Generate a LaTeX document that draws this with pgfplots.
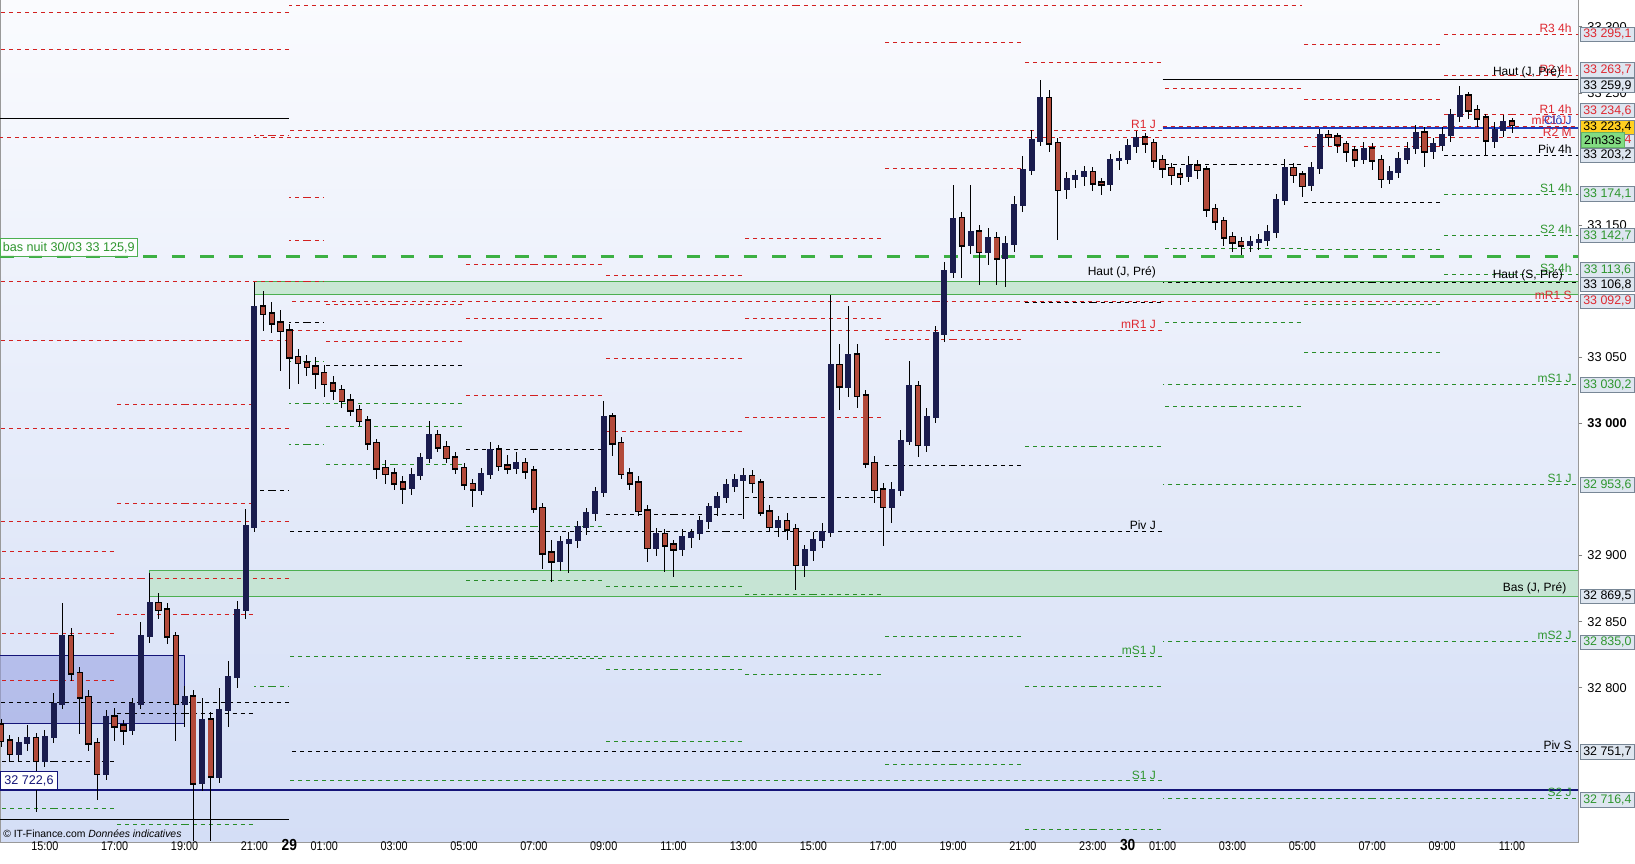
\documentclass[border=0pt]{standalone}
\usepackage{pgfplots}
\pgfplotsset{compat=1.18}
\usepackage{pgfplotstable}
\usepackage{fontspec}
\setmainfont{Liberation Sans}
\newfontfamily\narrow[FakeStretch=0.86]{Liberation Sans}

\definecolor{pivred}{RGB}{210,32,32}
\definecolor{pivgreen}{RGB}{40,140,40}
\definecolor{lblred}{RGB}{222,40,48}
\definecolor{lblgreen}{RGB}{46,150,46}
\definecolor{bgtop}{RGB}{250,251,254}
\definecolor{bgbot}{RGB}{212,222,246}
\definecolor{upc}{RGB}{26,28,78}
\definecolor{dnc}{RGB}{178,74,58}
\definecolor{navy}{RGB}{20,20,120}
\definecolor{boxfill}{RGB}{222,230,240}
\definecolor{boxdraw}{RGB}{120,135,150}
\definecolor{zonegreen}{RGB}{76,175,80}
\definecolor{zonefill}{RGB}{190,228,200}
\definecolor{bluezone}{RGB}{150,160,225}
\definecolor{closeblue}{RGB}{30,60,190}
\definecolor{thickgreen}{RGB}{60,176,67}

% 15-min candles, x in chart hours (15 = 15:00 on the 28th)
\pgfplotstableread{
t o h l c
13.75 32772 32776 32755 32760
14.00 32760 32764 32744 32750
14.25 32750 32763 32745 32758
14.50 32758 32772 32752 32762
14.75 32762 32766 32706 32745
15.00 32745 32768 32740 32763
15.25 32763 32796 32758 32788
15.50 32788 32864 32784 32839
15.75 32839 32845 32805 32811
16.00 32811 32816 32765 32793
16.25 32793 32798 32752 32758
16.50 32758 32762 32715 32735
16.75 32735 32783 32730 32778
17.00 32778 32785 32760 32771
17.25 32771 32776 32757 32768
17.50 32768 32792 32764 32788
17.75 32788 32850 32784 32839
18.00 32839 32887 32834 32864
18.25 32864 32872 32852 32859
18.50 32859 32864 32833 32839
18.75 32839 32842 32760 32788
19.00 32788 32801 32770 32793
19.25 32793 32798 32684 32728
19.50 32728 32792 32722 32776
19.75 32776 32782 32684 32733
20.00 32733 32800 32728 32783
20.25 32783 32820 32770 32808
20.50 32808 32866 32800 32859
20.75 32859 32935 32852 32922
21.00 32922 33107 32918 33088
21.25 33088 33100 33070 33083
21.50 33083 33092 33068 33076
21.75 33076 33086 33040 33070
22.00 33070 33075 33026 33050
22.25 33050 33056 33030 33046
22.50 33046 33052 33036 33043
22.75 33043 33050 33026 33038
23.00 33038 33044 33020 33030
23.25 33030 33036 33018 33025
23.50 33025 33029 33012 33017
23.75 33017 33022 33006 33010
24.00 33010 33014 32998 33002
24.25 33002 33006 32980 32985
24.50 32985 32988 32958 32966
24.75 32966 32972 32954 32962
25.00 32962 32966 32950 32955
25.25 32955 32960 32939 32951
25.50 32951 32966 32946 32961
25.75 32961 32978 32957 32974
26.00 32974 33002 32970 32991
26.25 32991 32995 32978 32982
26.50 32982 32987 32970 32974
26.75 32974 32978 32962 32966
27.00 32966 32970 32950 32954
27.25 32954 32958 32937 32950
27.50 32950 32966 32946 32962
27.75 32962 32986 32958 32980
28.00 32980 32984 32964 32968
28.25 32968 32976 32962 32966
28.50 32966 32978 32962 32970
28.75 32970 32974 32958 32964
29.00 32964 32968 32932 32936
29.25 32936 32940 32890 32902
29.50 32902 32912 32880 32896
29.75 32896 32915 32888 32910
30.00 32910 32918 32887 32912
30.25 32912 32926 32906 32922
30.50 32922 32936 32916 32932
30.75 32932 32952 32926 32948
31.00 32948 33017 32944 33005
31.25 33005 33008 32975 32985
31.50 32985 32990 32958 32962
31.75 32962 32966 32950 32955
32.00 32955 32960 32930 32934
32.25 32934 32938 32895 32906
32.50 32906 32921 32900 32916
32.75 32916 32920 32888 32908
33.00 32908 32912 32884 32905
33.25 32905 32920 32900 32914
33.50 32914 32920 32906 32917
33.75 32917 32930 32912 32926
34.00 32926 32940 32920 32937
34.25 32937 32948 32930 32944
34.50 32944 32958 32940 32953
34.75 32953 32962 32948 32957
35.00 32957 32966 32928 32960
35.25 32960 32965 32947 32955
35.50 32955 32958 32930 32933
35.75 32933 32938 32918 32922
36.00 32922 32930 32914 32926
36.25 32926 32932 32912 32920
36.50 32920 32924 32874 32893
36.75 32893 32908 32884 32904
37.00 32904 32918 32896 32912
37.25 32912 32925 32906 32918
37.50 32918 33097 32914 33044
37.75 33044 33060 33010 33028
38.00 33028 33089 33020 33052
38.25 33052 33060 33012 33021
38.50 33021 33025 32966 32970
38.75 32970 32975 32940 32950
39.00 32950 32955 32907 32937
39.25 32937 32956 32925 32950
39.50 32950 32995 32945 32987
39.75 32987 33047 32984 33028
40.00 33028 33032 32975 32984
40.25 32984 33012 32978 33005
40.50 33005 33074 33000 33068
40.75 33068 33122 33062 33115
41.00 33115 33180 33110 33155
41.25 33155 33160 33110 33135
41.50 33135 33180 33128 33145
41.75 33145 33150 33105 33130
42.00 33130 33148 33120 33140
42.25 33140 33145 33105 33125
42.50 33125 33142 33103 33136
42.75 33136 33172 33130 33165
43.00 33165 33202 33160 33192
43.25 33192 33222 33188 33214
43.50 33214 33260 33210 33246
43.75 33246 33252 33205 33212
44.00 33212 33216 33139 33177
44.25 33177 33190 33170 33185
44.50 33185 33192 33178 33187
44.75 33187 33195 33180 33190
45.00 33190 33194 33176 33182
45.25 33182 33186 33173 33181
45.50 33181 33204 33176 33199
45.75 33199 33206 33192 33200
46.00 33200 33215 33196 33210
46.25 33210 33221 33205 33216
46.50 33216 33220 33205 33212
46.75 33212 33215 33193 33199
47.00 33199 33203 33186 33193
47.25 33193 33197 33180 33188
47.50 33188 33193 33180 33187
47.75 33187 33202 33183 33195
48.00 33195 33199 33185 33192
48.25 33192 33195 33156 33162
48.50 33162 33166 33146 33153
48.75 33153 33156 33134 33141
49.00 33141 33145 33130 33137
49.25 33137 33141 33127 33135
49.50 33135 33142 33130 33137
49.75 33137 33143 33131 33139
50.00 33139 33150 33134 33145
50.25 33145 33174 33140 33169
50.50 33169 33200 33165 33193
50.75 33193 33197 33182 33188
51.00 33188 33191 33171 33180
51.25 33180 33198 33176 33193
51.50 33193 33223 33189 33218
51.75 33218 33222 33210 33217
52.00 33217 33220 33205 33211
52.25 33211 33214 33198 33206
52.50 33206 33210 33194 33200
52.75 33200 33213 33196 33208
53.00 33208 33212 33192 33199
53.25 33199 33203 33178 33185
53.50 33185 33195 33181 33190
53.75 33190 33205 33186 33200
54.00 33200 33213 33196 33208
54.25 33208 33226 33204 33220
54.50 33220 33224 33194 33206
54.75 33206 33216 33200 33211
55.00 33211 33224 33206 33218
55.25 33218 33238 33213 33233
55.50 33233 33255 33228 33248
55.75 33248 33251 33230 33237
56.00 33237 33241 33224 33231
56.25 33231 33234 33203 33214
56.50 33214 33228 33208 33222
56.75 33222 33233 33217 33228
57.00 33228 33231 33220 33226
}\candles

% pivot segments: start, end, level
\pgfplotstableread{
x0 x1 y
13.5 22 33311
13.5 22 33283
13.5 22 33107.5
13.5 22 33062.6
13.5 22 32995.8
13.5 22 32925.9
13.5 22 32882.6
13.5 17 32903.3
13.5 17 32841.2
13.5 17 32805.4
17 21 33014.5
17 21 32939.6
17 21 32855.6
21 22 33218
22 23 33170.5
22 23 33138.7
22 23 33107.5
23 27 33090.3
23 27 33061.6
27 31 33120.4
27 31 33079.5
27 31 33021.3
31 35 33112
31 35 33049.3
31 35 32994.2
35 39 33139.5
35 39 33079
35 39 33004.8
39 43 33287.8
39 43 33193
39 43 33063.6
43 47 33273.2
47 51 33253.2
51 55 33287
51 55 33245.2
51 55 33209.1
55 59 33294.4
55 59 33263.3
55 59 33233.5
22 51 33316.3
22 47 33221.7
22 47 33070.4
22 59 33092.4
13.5 59 33215.9
}\redlines

\pgfplotstableread{
x0 x1 y
13.5 22 32789
13.5 17 32743.9
17 21 32780.7
21 22 32949.4
22 23 33076.5
23 27 33044
27 31 32980.4
31 35 32931.2
35 39 32944
39 43 32968.2
43 47 33091.6
47 51 33196
51 55 33167.3
55 59 33202.8
22 47 32918.4
22 59 32751.7
47 59 33106.2
}\blacklines

\pgfplotstableread{
x0 x1 y
13.5 17 32708.3
17 21 32696.2
21 22 32800.6
22 23 33046.5
22 23 33015.2
22 23 32984.2
23 27 33015.2
23 27 32998
23 27 32969.1
27 31 32922
27 31 32881.2
27 31 32822
31 35 32876.7
31 35 32813.9
31 35 32759.4
35 39 32870.7
35 39 32810.1
39 43 32838.9
39 43 32742
43 47 32982.6
43 47 32801.3
43 47 32693
47 51 33132.5
47 51 33076
47 51 33012.4
51 55 33131.2
51 55 33089.6
51 55 33053.3
55 59 33173.3
55 59 33142.3
55 59 33112.8
22 47 32823.7
22 47 32729.5
47 59 33029.6
47 59 32953.6
47 59 32835
47 59 32716.4
}\greenlines

\pgfplotsset{
  seg/.style={draw=none, mark=none, forget plot,
    error bars/.cd, x dir=both, x explicit, error mark=none,
    error bar style={draw=#1, line width=0.5pt, dash pattern=on 2pt off 2pt}},
}
\tikzset{
  lbl/.style={anchor=south east, inner sep=0.6pt, font=\fontsize{6}{7}\selectfont},
  vb/.style={draw=boxdraw, fill=boxfill, minimum width=27pt, minimum height=7.2pt,
    inner sep=0pt, anchor=west, line width=0.4pt, font=\fontsize{6.2}{6.5}\selectfont},
}

\begin{document}
\begin{tikzpicture}
\begin{axis}[
  scale only axis, width=789pt, height=421pt,
  xmin=13.717, xmax=58.89, ymin=32683.3, ymax=33320.3,
  axis background/.style={top color=bgtop, bottom color=bgbot},
  axis line style={draw=gray!80, line width=0.5pt},
  clip mode=individual,
  xtick={15,17,19,21,22,23,25,27,29,31,33,35,37,39,41,43,45,46,47,49,51,53,55,57},
  xticklabels={15:00,17:00,19:00,21:00,{\bfseries\fontsize{8}{8}\selectfont 29},01:00,03:00,05:00,07:00,09:00,11:00,13:00,15:00,17:00,19:00,21:00,23:00,{\bfseries\fontsize{8}{8}\selectfont 30},01:00,03:00,05:00,07:00,09:00,11:00},
  xtick pos=bottom, xtick style={draw=none},
  xticklabel style={font=\narrow\fontsize{6.3}{7}\selectfont, anchor=base, yshift=-2pt},
  ytick={32800,32850,32900,33000,33050,33150,33250,33300},
  yticklabels={32 800,32 850,32 900,\textbf{33 000},33 050,33 150,33 250,33 300},
  ytick pos=right, yticklabel pos=right, tick align=outside,
  major tick length=2.2pt, ytick style={draw=gray, line width=0.4pt},
  yticklabel style={font=\fontsize{6.4}{7}\selectfont, anchor=west, xshift=-1pt},
]
% zones
\addplot[forget plot, draw=navy, line width=0.5pt, fill=bluezone, fill opacity=0.55]
  coordinates {(13.5,32773.2) (19.0,32773.2) (19.0,32824.6) (13.5,32824.6)} -- cycle;
\addplot[forget plot, draw=zonegreen, line width=0.5pt, fill=zonefill, fill opacity=0.75]
  coordinates {(18.0,32869.4) (59.5,32869.4) (59.5,32888.9) (18.0,32888.9)} -- cycle;
\addplot[forget plot, draw=zonegreen, line width=0.5pt, fill=zonefill, fill opacity=0.75]
  coordinates {(21.0,33097.4) (59.5,33097.4) (59.5,33107.0) (21.0,33107.0)} -- cycle;

% pivot levels
\addplot[seg={pivred}] table[x expr={(\thisrow{x0}+\thisrow{x1})/2}, y=y,
    x error expr={(\thisrow{x1}-\thisrow{x0})/2}] {\redlines};
\addplot[seg={black}] table[x expr={(\thisrow{x0}+\thisrow{x1})/2}, y=y,
    x error expr={(\thisrow{x1}-\thisrow{x0})/2}] {\blacklines};
\addplot[seg={pivgreen}] table[x expr={(\thisrow{x0}+\thisrow{x1})/2}, y=y,
    x error expr={(\thisrow{x1}-\thisrow{x0})/2}] {\greenlines};

% solid levels
\addplot[forget plot, black, line width=0.5pt] coordinates {(13.5,33230.3) (22,33230.3)};
\addplot[forget plot, black, line width=0.5pt] coordinates {(13.5,32700.7) (22,32700.7)};
\addplot[forget plot, black, line width=0.5pt] coordinates {(47,33259.9) (59,33259.9)};
\addplot[forget plot, navy, line width=0.6pt] coordinates {(13.5,32722.6) (59,32722.6)};
\addplot[forget plot, closeblue, line width=1.4pt] coordinates {(47,33223.4) (59,33223.4)};
\addplot[forget plot, pivred, line width=0.5pt, dash pattern=on 2pt off 2pt] coordinates {(47,33224.6) (59,33224.6)};
\addplot[forget plot, thickgreen, line width=1.5pt, dash pattern=on 6.8pt off 7.5pt] coordinates {(13.72,33125.9) (59,33125.9)};

% candles: wicks, then bodies
\addplot[draw=none, mark=none, forget plot, error bars/.cd, y dir=both, y explicit,
  error mark=none, error bar style={draw=black, line width=0.45pt}]
  table[x=t, y expr={(\thisrow{h}+\thisrow{l})/2}, y error expr={(\thisrow{h}-\thisrow{l})/2}] {\candles};
\addplot[draw=none, mark=none, forget plot, restrict expr to domain={\thisrow{c}-\thisrow{o}}{0:5000},
  error bars/.cd, y dir=both, y explicit, error mark=none, error bar style={draw=upc, line width=3pt}]
  table[x=t, y expr={(\thisrow{o}+\thisrow{c})/2}, y error expr={abs(\thisrow{c}-\thisrow{o})/2+0.8}] {\candles};
\addplot[draw=none, mark=none, forget plot, restrict expr to domain={\thisrow{o}-\thisrow{c}}{0.5:5000},
  error bars/.cd, y dir=both, y explicit, error mark=none, error bar style={draw=black, line width=3.2pt}]
  table[x=t, y expr={(\thisrow{o}+\thisrow{c})/2}, y error expr={abs(\thisrow{c}-\thisrow{o})/2+1.2}] {\candles};
\addplot[draw=none, mark=none, forget plot, restrict expr to domain={\thisrow{o}-\thisrow{c}}{0.5:5000},
  error bars/.cd, y dir=both, y explicit, error mark=none, error bar style={draw=dnc, line width=2.3pt}]
  table[x=t, y expr={(\thisrow{o}+\thisrow{c})/2}, y error expr={abs(\thisrow{c}-\thisrow{o})/2}] {\candles};

% level names, right side
\node[lbl, text=lblred] at (axis cs:58.75,33294.4) {R3 4h};
\node[lbl, text=lblred] at (axis cs:58.75,33263.3) {R2 4h};
\node[lbl, text=black] at (axis cs:58.45,33259.9) {Haut (J, Pré)};
\node[lbl, text=lblred] at (axis cs:58.75,33233.5) {R1 4h};
\node[lbl, text=lblred, anchor=east] at (axis cs:58.6,33229.5) {mR1 J};
\node[lbl, text=closeblue, anchor=east] at (axis cs:58.75,33229.0) {Clô J};
\node[lbl, text=lblred] at (axis cs:58.75,33215.9) {R2 M};
\node[lbl, text=black] at (axis cs:58.75,33202.8) {Piv 4h};
\node[lbl, text=lblgreen] at (axis cs:58.75,33173.3) {S1 4h};
\node[lbl, text=lblgreen] at (axis cs:58.75,33142.3) {S2 4h};
\node[lbl, text=lblgreen] at (axis cs:58.75,33112.8) {S3 4h};
\node[lbl, text=black] at (axis cs:58.5,33106.2) {Haut (S, Pré)};
\node[lbl, text=lblred] at (axis cs:58.75,33092.4) {mR1 S};
\node[lbl, text=lblgreen] at (axis cs:58.75,33029.6) {mS1 J};
\node[lbl, text=lblgreen] at (axis cs:58.75,32953.6) {S1 J};
\node[lbl, text=black] at (axis cs:58.6,32869.5) {Bas (J, Pré)};
\node[lbl, text=lblgreen] at (axis cs:58.75,32835) {mS2 J};
\node[lbl, text=black] at (axis cs:58.75,32751.7) {Piv S};
\node[lbl, text=lblgreen] at (axis cs:58.75,32716.4) {S2 J};
% level names, day 29
\node[lbl, text=lblred] at (axis cs:46.85,33221.7) {R1 J};
\node[lbl, text=black] at (axis cs:46.85,33109) {Haut (J, Pré)};
\node[lbl, text=lblred] at (axis cs:46.85,33070.4) {mR1 J};
\node[lbl, text=black] at (axis cs:46.85,32918.4) {Piv J};
\node[lbl, text=lblgreen] at (axis cs:46.85,32823.6) {mS1 J};
\node[lbl, text=lblgreen] at (axis cs:46.85,32729.5) {S1 J};

% left boxes and credit
\node[anchor=south west, draw=zonegreen, fill=white, fill opacity=0.85, text opacity=1,
  text=lblgreen, inner sep=1.2pt, minimum height=9pt, line width=0.4pt,
  font=\fontsize{6.3}{7}\selectfont] at (axis cs:13.72,33125.9) {bas nuit 30/03 33 125,9};
\node[anchor=south west, draw=navy, fill=white, text=navy, inner sep=1.2pt,
  minimum height=9pt, minimum width=28.5pt, line width=0.4pt,
  font=\fontsize{6.3}{7}\selectfont] at (axis cs:13.72,32722.6) {32 722,6};
\node[anchor=south west, inner sep=0pt, font=\fontsize{5.2}{6}\selectfont]
  at (axis cs:13.8,32686.5) {© IT-Finance.com \textit{Données indicatives}};

% anchors for value boxes on the price scale (shifted apart where they would collide)
\coordinate (q1) at (axis cs:58.89,33294.3);
\coordinate (q2) at (axis cs:58.89,33267.5);
\coordinate (q3) at (axis cs:58.89,33255.6);
\coordinate (q4) at (axis cs:58.89,33236.7);
\coordinate (q5) at (axis cs:58.89,33224.1);
\coordinate (q6) at (axis cs:58.89,33214.4);
\coordinate (q7) at (axis cs:58.89,33202.8);
\coordinate (q8) at (axis cs:58.89,33173.6);
\coordinate (q9) at (axis cs:58.89,33142.0);
\coordinate (q10) at (axis cs:58.89,33116.0);
\coordinate (q11) at (axis cs:58.89,33105.0);
\coordinate (q12) at (axis cs:58.89,33092.3);
\coordinate (q13) at (axis cs:58.89,33029.2);
\coordinate (q14) at (axis cs:58.89,32953.5);
\coordinate (q15) at (axis cs:58.89,32869.1);
\coordinate (q16) at (axis cs:58.89,32834.4);
\coordinate (q17) at (axis cs:58.89,32751.6);
\coordinate (q18) at (axis cs:58.89,32715.3);
\end{axis}

\node[vb, text=lblred] at ([xshift=1pt]q1) {33 295,1};
\node[vb, text=lblred] at ([xshift=1pt]q2) {33 263,7};
\node[vb, text=black] at ([xshift=1pt]q3) {33 259,9};
\node[vb, text=lblred] at ([xshift=1pt]q4) {33 234,6};
\node[vb, text=lblred] at ([xshift=1pt]q6) {33 215,4};
\node[vb, text=black, fill={rgb,255:red,255;green,208;blue,32}] at ([xshift=1pt]q5) {33 223,4};
\node[vb, text=black, fill={rgb,255:red,130;green,220;blue,130}, draw={rgb,255:red,100;green,180;blue,100}, minimum width=21.5pt] at ([xshift=1.4pt]q6) {2m33s};
\node[vb, text=black] at ([xshift=1pt]q7) {33 203,2};
\node[vb, text=lblgreen] at ([xshift=1pt]q8) {33 174,1};
\node[vb, text=lblgreen] at ([xshift=1pt]q9) {33 142,7};
\node[vb, text=lblgreen] at ([xshift=1pt]q10) {33 113,6};
\node[vb, text=black] at ([xshift=1pt]q11) {33 106,8};
\node[vb, text=lblred] at ([xshift=1pt]q12) {33 092,9};
\node[vb, text=lblgreen] at ([xshift=1pt]q13) {33 030,2};
\node[vb, text=lblgreen] at ([xshift=1pt]q14) {32 953,6};
\node[vb, text=black] at ([xshift=1pt]q15) {32 869,5};
\node[vb, text=lblgreen] at ([xshift=1pt]q16) {32 835,0};
\node[vb, text=black] at ([xshift=1pt]q17) {32 751,7};
\node[vb, text=lblgreen] at ([xshift=1pt]q18) {32 716,4};

\pgfresetboundingbox
\path[use as bounding box] ([yshift=-10.5pt]current axis.south west) rectangle ([xshift=28.5pt]current axis.north east);
\end{tikzpicture}
\end{document}
